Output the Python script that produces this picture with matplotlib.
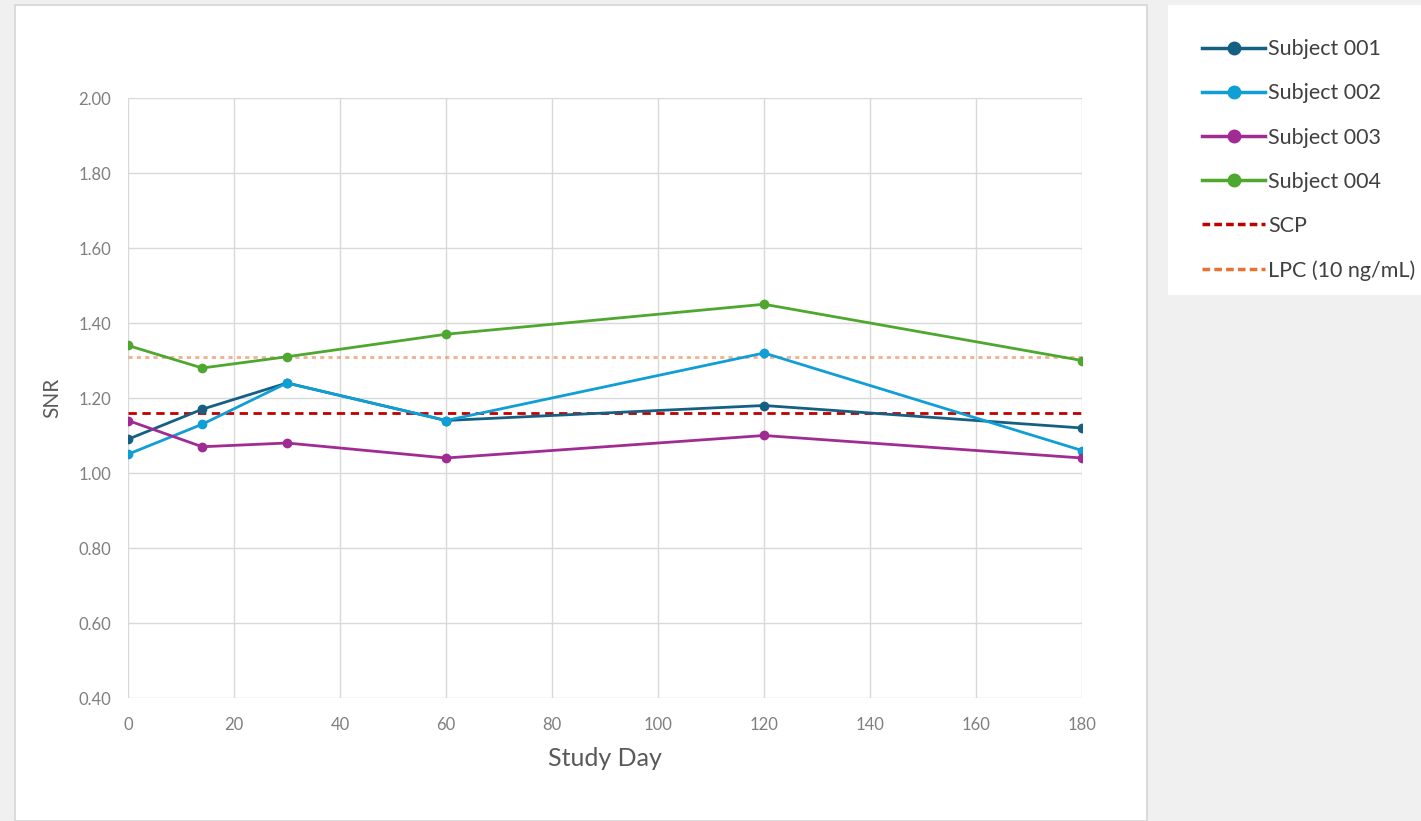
import matplotlib.pyplot as plt
from matplotlib.patches import Rectangle
from matplotlib.lines import Line2D

days = [0, 14, 30, 60, 120, 180]
subject_001 = [1.09, 1.17, 1.24, 1.14, 1.18, 1.12]
subject_002 = [1.05, 1.13, 1.24, 1.14, 1.32, 1.06]
subject_003 = [1.14, 1.07, 1.08, 1.04, 1.10, 1.04]
subject_004 = [1.34, 1.28, 1.31, 1.37, 1.45, 1.30]
scp = 1.16
lpc = 1.31

labels = ["Subject 001", "Subject 002", "Subject 003", "Subject 004"]
colors = ["#156082", "#0F9ED5", "#A02B93", "#4EA72E"]

plt.rcParams['font.family'] = ['Lato', 'DejaVu Sans']

fig = plt.figure(figsize=(14.21, 8.21), dpi=100, facecolor="#f0f0f0")

# white chart area + legend panel
fig.add_artist(Rectangle((15 / 1421, 0), 1132 / 1421, 816 / 821, transform=fig.transFigure,
                         facecolor="white", edgecolor="#d6d6d6", lw=1.2, zorder=0))
fig.add_artist(Rectangle((1168 / 1421, 1 - 295 / 821), 253 / 1421, 290 / 821, transform=fig.transFigure,
                         facecolor="white", edgecolor="none", zorder=0))

ax = fig.add_axes([128 / 1421, 1 - 698 / 821, 954 / 1421, 600 / 821])
ax.set_facecolor("white")

for vals, lab, c in zip([subject_001, subject_002, subject_003, subject_004], labels, colors):
    ax.plot(days, vals, color=c, lw=2, marker="o", markersize=6, label=lab, zorder=3)

ax.plot([days[0], days[-1]], [scp, scp], color="#C00000", lw=2, ls=(0, (3, 2)), zorder=2)
ax.plot([days[0], days[-1]], [lpc, lpc], color="#E97132", lw=2, ls=(0, (1.5, 1.5)), alpha=0.55, zorder=2)

ax.set_xlim(0, 180)
ax.set_ylim(0.4, 2.0)
ax.set_xticks(range(0, 181, 20))
ax.set_yticks([0.4 + 0.2 * i for i in range(9)])
ax.set_yticklabels([f"{0.4 + 0.2 * i:.2f}" for i in range(9)])
ax.grid(True, color="#d9d9d9", lw=1)
ax.set_axisbelow(True)
for s in ax.spines.values():
    s.set_visible(False)
ax.tick_params(length=0, labelsize=12, labelcolor="#7f7f7f", pad=14)
ax.tick_params(axis="y", pad=12)
ax.set_xlabel("Study Day", fontsize=18, color="#595959", labelpad=10)
ax.set_ylabel("SNR", fontsize=15, color="#595959", labelpad=12)

handles = [Line2D([], [], color=c, lw=2.5, marker="o", markersize=9) for c in colors]
handles.append(Line2D([], [], color="#C00000", lw=2.5, ls=(0, (2.2, 1.2))))
handles.append(Line2D([], [], color="#E97132", lw=2.5, ls=(0, (2.2, 1.2))))
leg = fig.legend(handles, labels + ["SCP", "LPC (10 ng/mL)"], loc="upper left",
                 bbox_to_anchor=(1183 / 1421, 1 - 20 / 821), frameon=False,
                 fontsize=15.5, handlelength=2.9, labelspacing=1.12, handletextpad=0.15)
for t in leg.get_texts():
    t.set_color("#404040")

fig.savefig("out.png", dpi=100, facecolor=fig.get_facecolor())
